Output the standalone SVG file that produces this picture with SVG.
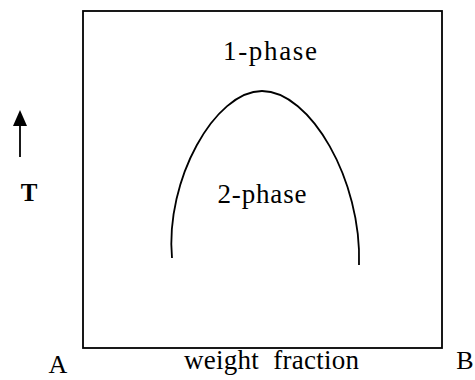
<svg xmlns="http://www.w3.org/2000/svg" width="475" height="380" viewBox="0 0 475 380">
<style>
text{font-family:"Liberation Serif","Times New Roman",serif;fill:#000;white-space:pre}
.lbl{font-size:27px}
.ln{fill:none;stroke:#000;stroke-width:1.8}
</style>
<g id="frame"><rect class="ln" x="83" y="11" width="359" height="337"/></g>
<g id="curve"><path class="ln" d="M172,258 C165,180 215,91 262,91 C310,91 362,180 359,265"/></g>
<g id="connectors"><line class="ln" x1="20" y1="157" x2="20" y2="124"/><polygon points="20,110 27,126 13,126" fill="#000"/></g>
<g id="labels">
<text class="lbl" x="270" y="60" text-anchor="middle" textLength="94" lengthAdjust="spacing">1-phase</text>
<text class="lbl" x="262" y="203" text-anchor="middle" textLength="89" lengthAdjust="spacing">2-phase</text>
<text x="29" y="201" text-anchor="middle" font-size="25" font-weight="bold">T</text>
<text x="58" y="373" text-anchor="middle" font-size="26">A</text>
<text class="lbl" x="184" y="369" textLength="175" lengthAdjust="spacing">weight  fraction</text>
<text x="465" y="369" text-anchor="middle" font-size="26">B</text>
</g>
</svg>
